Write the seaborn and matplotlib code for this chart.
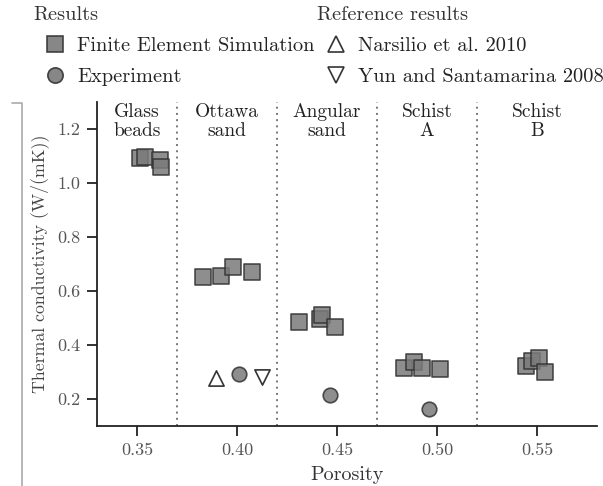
import numpy as np
import pandas as pd
import matplotlib
matplotlib.use("Agg")
import matplotlib.pyplot as plt
from matplotlib.lines import Line2D
import seaborn as sns

# Simulated thermal conductivity (finite element) per material
fem_material = (["Glass beads"] * 4 + ["Ottawa sand"] * 4 + ["Angular sand"] * 4
                + ["Schist A"] * 4 + ["Schist B"] * 4)
fem_porosity = [0.3515, 0.354, 0.3616, 0.3620,
                0.3832, 0.3922, 0.3982, 0.4073,
                0.4309, 0.4413, 0.4426, 0.4488,
                0.4837, 0.4887, 0.4924, 0.5016,
                0.5443, 0.5473, 0.5510, 0.5540]
fem_conductivity = [1.093, 1.095, 1.086, 1.057,
                    0.650, 0.656, 0.688, 0.671,
                    0.484, 0.497, 0.510, 0.467,
                    0.313, 0.337, 0.315, 0.310,
                    0.322, 0.341, 0.353, 0.298]

# Measured values
exp_porosity = [0.4008, 0.4463, 0.4962]
exp_conductivity = [0.292, 0.216, 0.163]

# Literature values for Ottawa sand
narsilio_porosity = [0.3897]
narsilio_conductivity = [0.277]
yun_porosity = [0.4124]
yun_conductivity = [0.283]

# Material regions along the porosity axis
region_edges = [0.37, 0.42, 0.47, 0.52]
region_labels = ["Glass\nbeads", "Ottawa\nsand", "Angular\nsand", "Schist\nA", "Schist\nB"]
xticks = [0.35, 0.40, 0.45, 0.50, 0.55]
yticks = [0.2, 0.4, 0.6, 0.8, 1.0, 1.2]

sns.set_style("ticks")
plt.rcParams["font.family"] = ["cmr10", "DejaVu Serif"]
plt.rcParams["mathtext.fontset"] = "cm"
plt.rcParams["axes.formatter.use_mathtext"] = True
plt.rcParams["font.size"] = 12

fem = pd.DataFrame({"porosity": fem_porosity, "k": fem_conductivity, "material": fem_material})
exp = pd.DataFrame({"porosity": exp_porosity, "k": exp_conductivity})
nar = pd.DataFrame({"porosity": narsilio_porosity, "k": narsilio_conductivity})
yun = pd.DataFrame({"porosity": yun_porosity, "k": yun_conductivity})

W, H = 603, 486
fig = plt.figure(figsize=(W / 100, H / 100), dpi=100)
ax = fig.add_axes([0.161, 0.1235, 0.829, 0.667])

xlim = (0.33, 0.58)
ylim = (0.1, 1.3)

for e in region_edges:
    ax.axvline(e, color="#777777", linestyle=(0, (1, 2.2)), linewidth=1.4, zorder=1)

face = "#7a7a7a"
edge = "#333333"
sns.scatterplot(data=fem, x="porosity", y="k", marker="s", s=120, color=face,
                edgecolor=edge, linewidth=1.2, alpha=0.85, ax=ax, zorder=3, legend=False)
sns.scatterplot(data=exp, x="porosity", y="k", marker="o", s=110, color=face,
                edgecolor=edge, linewidth=1.2, alpha=0.85, ax=ax, zorder=3, legend=False)
sns.scatterplot(data=nar, x="porosity", y="k", marker="^", s=120, color="white",
                edgecolor="#333333", linewidth=1.2, ax=ax, zorder=3, legend=False)
sns.scatterplot(data=yun, x="porosity", y="k", marker="v", s=120, color="white",
                edgecolor="#333333", linewidth=1.2, ax=ax, zorder=3, legend=False)

# Region names centred in each band
bounds = [xlim[0]] + region_edges + [xlim[1]]
for i, lab in enumerate(region_labels):
    cx = 0.5 * (bounds[i] + bounds[i + 1])
    ax.text(cx, 1.297, lab, ha="center", va="top", fontsize=14,
            color="#222222", linespacing=1.1)

ax.set_xlim(*xlim)
ax.set_ylim(*ylim)
ax.set_xticks(xticks)
ax.set_xticklabels([f"{v:.2f}" for v in xticks])
ax.set_yticks(yticks)
ax.set_yticklabels([f"{v:.1f}" for v in yticks])
ax.tick_params(axis="both", direction="out", length=7, width=1.3, labelsize=13,
               colors="#222222", labelcolor="#555555", pad=5)
sns.despine(ax=ax)
for sp in ("left", "bottom"):
    ax.spines[sp].set_linewidth(1.3)
    ax.spines[sp].set_color("#222222")
ax.set_xlabel("Porosity", fontsize=14.5, color="#333333", labelpad=6)
ax.set_ylabel("Thermal conductivity (W/(mK))", fontsize=12.8, color="#444444", labelpad=6)

# Legends above the axes: group headings plus marker entries
def handle(marker, fc):
    return Line2D([], [], linestyle="none", marker=marker, markersize=11,
                  markerfacecolor=fc, markeredgecolor=edge, markeredgewidth=1.2,
                  alpha=0.9 if fc != "white" else 1.0)

fig.text(33 / W, 1 - 15 / H, "Results", ha="left", va="center",
         fontsize=14.7, color="#333333")
fig.text(317 / W, 1 - 15 / H, "Reference results", ha="left", va="center",
         fontsize=14.7, color="#333333")

leg_kw = dict(frameon=False, loc="upper left",
              fontsize=14.7, handlelength=1.4,
              handletextpad=0.4, labelspacing=0.6, borderpad=0.0,
              borderaxespad=0.0)
leg1 = fig.legend([handle("s", face), handle("o", face)],
                  ["Finite Element Simulation", "Experiment"],
                  bbox_to_anchor=(40.5 / W, 1 - 37 / H), **leg_kw)
leg2 = fig.legend([handle("^", "white"), handle("v", "white")],
                  ["Narsilio et al. 2010", "Yun and Santamarina 2008"],
                  bbox_to_anchor=(321.5 / W, 1 - 37 / H), **leg_kw)
for lg in (leg1, leg2):
    for t in lg.get_texts():
        t.set_color("#222222")

# Page bracket at the left edge
fig.add_artist(Line2D([12 / W, 22 / W, 22 / W], [1 - 103 / H, 1 - 103 / H, 0.0],
                      transform=fig.transFigure, color="#aaaaaa", linewidth=1.2))

fig.savefig("out.png", dpi=100)
